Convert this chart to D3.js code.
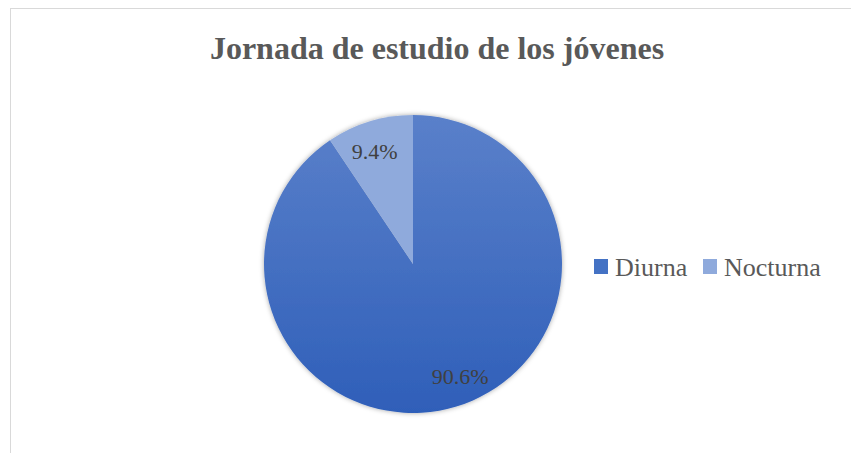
<!DOCTYPE html>
<html>
<head>
<meta charset="utf-8">
<script src="https://cdn.jsdelivr.net/npm/d3@7"></script>
<style>
  body { margin: 0; background: #fff; }
</style>
</head>
<body>
<script>
var width = 851, height = 453;
var FONT = "'Times New Roman', 'Liberation Serif', Tinos, serif";

/** data **/
var categories = ["Diurna", "Nocturna"];
var values = [90.6, 9.4];
var labels = ["90.6%", "9.4%"];

var svg = d3.select("body").append("svg")
    .attr("width", width).attr("height", height);

var defs = svg.append("defs");

// gradients for the two slices
var grads = [["#5a80ca", "#2f5fb9"], ["#8faadc", "#8faadc"]];
grads.forEach((g, i) => {
    var lg = defs.append("linearGradient").attr("id", "g" + i)
        .attr("gradientUnits", "userSpaceOnUse")
        .attr("x1", 0).attr("y1", -149).attr("x2", 0).attr("y2", 149);
    lg.append("stop").attr("offset", "0%").attr("stop-color", g[0]);
    lg.append("stop").attr("offset", "100%").attr("stop-color", g[1]);
});

var shadow = defs.append("filter").attr("id", "shadow")
    .attr("x", "-20%").attr("y", "-20%").attr("width", "140%").attr("height", "140%");
shadow.append("feDropShadow").attr("dx", 0).attr("dy", 0)
    .attr("stdDeviation", 2.5).attr("flood-color", "#000").attr("flood-opacity", 0.35);

// chart border
svg.append("rect")
    .attr("x", 10.5).attr("y", 8.5)
    .attr("width", width + 10).attr("height", height + 10)
    .attr("fill", "#fff").attr("stroke", "#d9d9d9").attr("stroke-width", 1);

// title
svg.append("text")
    .attr("x", 437).attr("y", 59)
    .attr("text-anchor", "middle")
    .attr("font-family", FONT)
    .attr("font-size", 32).attr("font-weight", "bold")
    .attr("fill", "#595959")
    .text("Jornada de estudio de los jóvenes");

/** pie **/
var cx = 413, cy = 264, r = 149;
var color = d3.scaleOrdinal().domain(categories).range(["url(#g0)", "url(#g1)"]);
var legendColor = d3.scaleOrdinal().domain(categories).range(["#4472c4", "#8faadc"]);

var pie = d3.pie().sort(null).value(d => d.value);
var arc = d3.arc().innerRadius(0).outerRadius(r);
var labelArc = d3.arc().innerRadius(r * 0.79).outerRadius(r * 0.79);
var data = categories.map((c, i) => ({ name: c, value: values[i], label: labels[i] }));
var arcs = pie(data);

var g = svg.append("g").attr("transform", "translate(" + cx + "," + cy + ")");
g.append("g").attr("filter", "url(#shadow)")
  .selectAll("path")
  .data(arcs)
  .enter().append("path")
    .attr("d", arc)
    .attr("fill", d => color(d.data.name));

// excel nudges the labels a bit off the mid angle
var nudge = [[13, 0], [-4, 0]];
g.selectAll("text.lbl")
  .data(arcs)
  .enter().append("text")
    .attr("class", "lbl")
    .attr("x", (d, i) => labelArc.centroid(d)[0] + nudge[i][0])
    .attr("y", (d, i) => labelArc.centroid(d)[1] + nudge[i][1])
    .attr("text-anchor", "middle")
    .attr("dy", "0.35em")
    .attr("font-family", FONT)
    .attr("font-size", 22)
    .attr("fill", "#404040")
    .text(d => d.data.label);

/** legend **/
var legendX = [594, 703];
var lg = svg.append("g");
categories.forEach((c, i) => {
    lg.append("rect")
        .attr("x", legendX[i]).attr("y", 259)
        .attr("width", 14).attr("height", 15)
        .attr("fill", legendColor(c));
    lg.append("text")
        .attr("x", legendX[i] + 21).attr("y", 276)
        .attr("font-family", FONT)
        .attr("font-size", 26)
        .attr("fill", "#595959")
        .text(c);
});
</script>
</body>
</html>
